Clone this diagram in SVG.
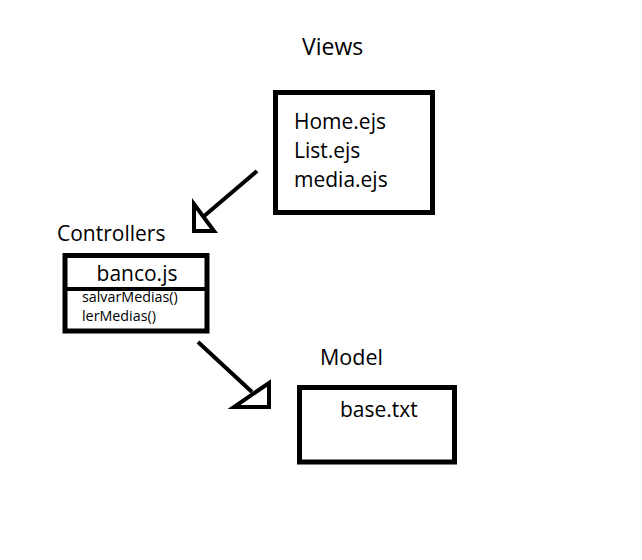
<svg xmlns="http://www.w3.org/2000/svg" width="642" height="560" viewBox="0 0 642 560">
<style>
text{font-family:"Open Sans","Noto Sans","Liberation Sans",sans-serif;fill:#000}
.lbl{font-size:21.5px}
.t{font-size:21px}
.s{font-size:14.3px}
.box{fill:#fff;stroke:#000;stroke-width:5}
.ln{fill:none;stroke:#000;stroke-width:4}
.head{fill:#fff;stroke:#000;stroke-width:4;stroke-linejoin:miter}
</style>
<rect width="642" height="560" fill="#fff"/>
<g id="views">
<text class="lbl" x="302" y="55" style="font-size:23px">Views</text>
<rect class="box" x="275.5" y="92.5" width="157" height="120"/>
<text class="t" x="294" y="129">Home.ejs</text>
<text class="t" x="294" y="158">List.ejs</text>
<text class="t" x="294" y="187">media.ejs</text>
</g>
<g id="controllers">
<text class="lbl" x="57" y="241" style="font-size:21px">Controllers</text>
<rect class="box" x="65" y="255.5" width="142" height="75.5"/>
<line class="ln" x1="65" y1="289" x2="207" y2="289"/>
<text class="t" x="137" y="281" text-anchor="middle">banco.js</text>
<text class="s" x="82" y="302">salvarMedias()</text>
<text class="s" x="82" y="321">lerMedias()</text>
</g>
<g id="model">
<text class="lbl" x="320" y="365">Model</text>
<rect class="box" x="299.5" y="387.5" width="155" height="74.5"/>
<text class="t" x="340" y="417">base.txt</text>
</g>
<g id="connectors">
<line class="ln" x1="257" y1="171" x2="203" y2="217"/>
<polygon class="head" points="194,204 194,231 214,231"/>
<line class="ln" x1="198" y1="342" x2="252" y2="392"/>
<polygon class="head" points="269,383 269,407 234,407"/>
</g>
</svg>
